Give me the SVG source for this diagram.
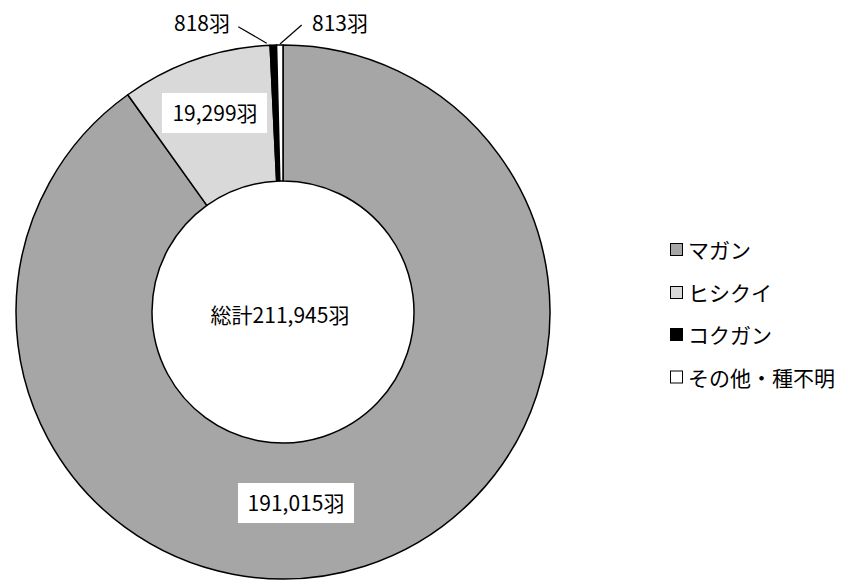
<svg xmlns="http://www.w3.org/2000/svg" width="845" height="580" viewBox="0 0 845 580">
<style>
text{font-family:"Noto Sans CJK JP","Liberation Sans",sans-serif;font-size:21px;fill:#000}
.c{text-anchor:middle}
.sl{stroke:#000;stroke-width:1.5;stroke-linejoin:round}
.lb{fill:#fff}
.lg{stroke:#000;stroke-width:1}
.ld{stroke:#000;stroke-width:1.2;fill:none}
</style>
<rect width="845" height="580" fill="#fff"/>
<g id="slice-magan">
<path class="sl" fill="#a6a6a6" d="M283 45 A267 267 0 1 1 127.77 94.76 L206.84 205.41 A131 131 0 1 0 283 181 Z"/>
</g>
<g id="slice-hishikui">
<path class="sl" fill="#d9d9d9" d="M127.77 94.76 A267 267 0 0 1 270.10 45.31 L276.67 181.15 A131 131 0 0 0 206.84 205.41 Z"/>
</g>
<g id="slice-kokugan">
<path class="sl" fill="#000" d="M270.10 45.31 A267 267 0 0 1 276.57 45.08 L279.84 181.04 A131 131 0 0 0 276.67 181.15 Z"/>
</g>
<g id="slice-other">
<path class="sl" fill="#fff" d="M276.57 45.08 A267 267 0 0 1 283 45 L283 181 A131 131 0 0 0 279.84 181.04 Z"/>
</g>
<g id="connectors">
<line class="ld" x1="238.3" y1="26.7" x2="266.7" y2="43.3"/>
<line class="ld" x1="301.7" y1="25" x2="280" y2="44"/>
</g>
<g id="label-magan">
<rect class="lb" x="238" y="483" width="116" height="40"/>
<text class="c" x="296" y="511">191,015羽</text>
</g>
<g id="label-hishikui">
<rect class="lb" x="162" y="93" width="105" height="40"/>
<text class="c" x="215" y="121">19,299羽</text>
</g>
<g id="label-kokugan">
<text class="c" x="202" y="31">818羽</text>
</g>
<g id="label-other">
<text class="c" x="340" y="31">813羽</text>
</g>
<g id="label-total">
<text class="c" x="280" y="323">総計211,945羽</text>
</g>
<g id="legend">
<rect class="lg" x="670.5" y="243.5" width="12" height="12" fill="#a6a6a6"/>
<text x="688" y="258">マガン</text>
<rect class="lg" x="670.5" y="286.5" width="12" height="12" fill="#d9d9d9"/>
<text x="688" y="301">ヒシクイ</text>
<rect class="lg" x="670.5" y="328.5" width="12" height="12" fill="#000"/>
<text x="688" y="343">コクガン</text>
<rect class="lg" x="670.5" y="371" width="12" height="12" fill="#fff"/>
<text x="688" y="385.5">その他・種不明</text>
</g>
</svg>
